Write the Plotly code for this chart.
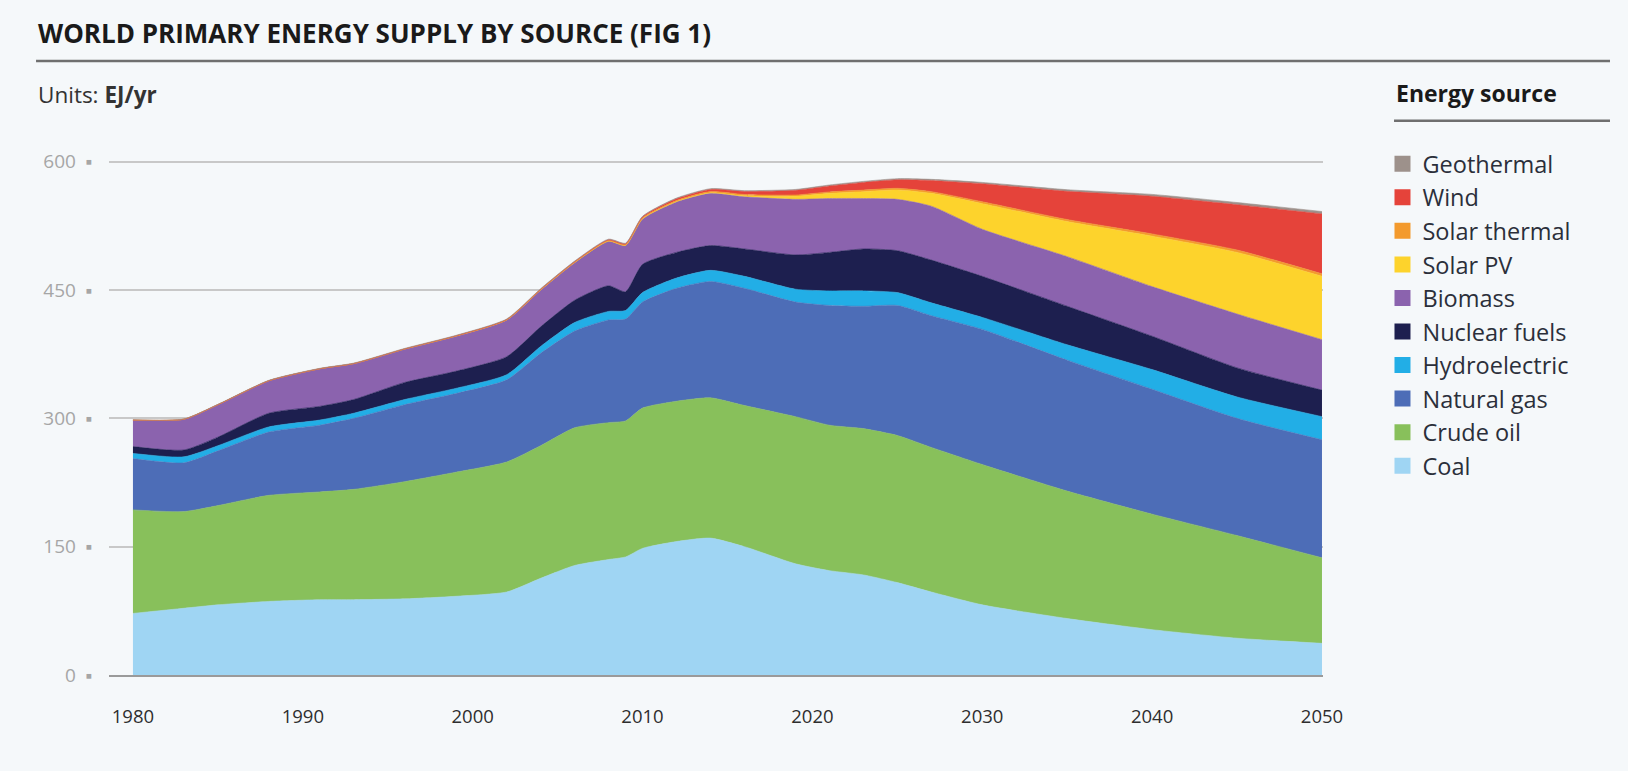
import plotly.graph_objects as go

# EJ/yr per source (stacked layer thickness)
years = [1980, 1983, 1985, 1988, 1991, 1993, 1996, 1999, 2002, 2004, 2006, 2008, 2009,
         2010, 2012, 2014, 2016, 2019, 2021, 2023, 2025, 2027, 2030, 2035, 2040, 2045, 2050]

coal = [72, 78, 82, 86, 88, 88, 89, 92, 97, 113, 128, 135, 138,
        148, 156, 160, 150, 130, 122, 117, 108, 97, 82, 66, 53, 43, 37]
crude_oil = [121, 113, 116, 124, 126, 129, 137, 145, 152, 155, 161, 160, 159,
             164, 164, 164, 165, 172, 170, 171, 172, 169, 164, 149, 135, 120, 100]
natural_gas = [60, 57, 64, 74, 78, 83, 90, 92, 96, 108, 113, 120, 119,
               124, 132, 136, 137, 134, 140, 143, 152, 154, 158, 153, 146, 137, 138]
hydroelectric = [6, 7, 6, 6, 6, 6, 6, 6, 6, 8, 10, 10, 10,
                 11, 12, 13, 14, 15, 17, 18, 15, 15, 14, 18, 23, 25, 27]
nuclear = [8, 8, 10, 16, 16, 16, 20, 20, 21, 23, 26, 30, 22,
           33, 30, 29, 32, 40, 45, 49, 49, 50, 48, 45, 39, 34, 31]
biomass = [31, 36, 38, 38, 44, 42, 39, 41, 43, 43, 44, 52, 54,
           53, 59, 61, 61, 65, 63, 59, 60, 63, 55, 58, 58, 63, 59]
solar_pv = [0, 0, 0, 0, 0, 0, 0, 0, 0, 0, 0, 0.1, 0.1,
            0.2, 0.4, 0.7, 1.2, 3.5, 6, 8, 11, 15, 30, 41, 59, 72, 74]
solar_thermal = [0, 0, 0, 0, 0, 0.1, 0.2, 0.3, 0.4, 0.5, 0.6, 0.8, 0.9,
                 1.0, 1.2, 1.4, 1.5, 1.6, 1.7, 1.8, 1.9, 2.0, 2.2, 2.4, 2.6, 2.8, 3.0]
wind = [0, 0, 0, 0, 0, 0, 0, 0.05, 0.1, 0.3, 0.5, 0.8, 1,
        1.2, 2, 2.5, 3.5, 5.5, 7, 9, 10, 13, 21, 33, 44, 53, 70]
geothermal = [0.3, 0.3, 0.4, 0.5, 0.5, 0.5, 0.6, 0.6, 0.7, 0.7, 0.7, 0.8, 0.8,
              0.8, 0.9, 0.9, 1.0, 1.0, 1.1, 1.2, 1.3, 1.4, 1.6, 1.9, 2.2, 2.5, 2.8]

# bottom of the stack first
sources = [
    ("Coal", coal, "#9fd5f3"),
    ("Crude oil", crude_oil, "#88c05b"),
    ("Natural gas", natural_gas, "#4d6db7"),
    ("Hydroelectric", hydroelectric, "#22aee6"),
    ("Nuclear fuels", nuclear, "#1d1f4f"),
    ("Biomass", biomass, "#8b63ae"),
    ("Solar PV", solar_pv, "#fdd32c"),
    ("Solar thermal", solar_thermal, "#f39a2d"),
    ("Wind", wind, "#e5433a"),
    ("Geothermal", geothermal, "#9d918b"),
]

y_ticks = [0, 150, 300, 450, 600]
x_ticks = [1980, 1990, 2000, 2010, 2020, 2030, 2040, 2050]

FONT = "Open Sans"
BG = "#f5f8fa"

fig = go.Figure()

for name, values, color in sources:
    fig.add_trace(go.Scatter(
        x=years, y=values, name=name, stackgroup="energy",
        mode="lines", line=dict(color=color, width=0.6, shape="spline", smoothing=0.6),
        fillcolor=color, showlegend=False, hoverinfo="skip"))

# legend-only entries with square swatches, top of the stack listed first
for name, values, color in reversed(sources):
    fig.add_trace(go.Scatter(
        x=[None], y=[None], name=name, mode="markers", legendgroup=name,
        marker=dict(symbol="square", size=17, color=color)))

fig.update_layout(
    width=1628, height=771,
    margin=dict(l=109, r=305, t=160, b=96),
    paper_bgcolor=BG, plot_bgcolor=BG,
    font=dict(family=FONT, color="#333333"),
    legend=dict(
        x=1.049, y=1.035, xanchor="left", yanchor="top",
        traceorder="grouped", tracegroupgap=0,
        font=dict(size=23.5, color="#2b2f3a"), bgcolor="rgba(0,0,0,0)"),
    xaxis=dict(
        range=[1978.59, 2050.06], tickvals=x_ticks, showgrid=False, zeroline=False,
        showline=True, linecolor="#9a9a9a", linewidth=2,
        ticks="outside", ticklen=24, tickcolor="rgba(0,0,0,0)",
        tickfont=dict(size=18.5, color="#2e2e2e")),
    yaxis=dict(
        range=[0, 602], tickvals=y_ticks, ticktext=[f"{v}\u2002\u25aa" for v in y_ticks],
        showgrid=True, gridcolor="#c8c8c8", gridwidth=1.5, zeroline=False,
        ticks="outside", ticklen=12, tickcolor="rgba(0,0,0,0)",
        tickfont=dict(size=19, color="#a6a6a6")),
)

fig.add_annotation(
    text="<b>WORLD PRIMARY ENERGY SUPPLY BY SOURCE (FIG 1)</b>",
    xref="paper", yref="paper", x=-0.0601, y=1.247, xanchor="left", yanchor="middle",
    showarrow=False, font=dict(size=26, color="#1a1a1a"))
fig.add_annotation(
    text="Units: <b>EJ/yr</b>",
    xref="paper", yref="paper", x=-0.0601, y=1.128, xanchor="left", yanchor="middle",
    showarrow=False, font=dict(size=22.5, color="#333333"))
fig.add_annotation(
    text="<b>Energy source</b>",
    xref="paper", yref="paper", x=1.0585, y=1.13, xanchor="left", yanchor="middle",
    showarrow=False, font=dict(size=23, color="#1a1a1a"))

# rules under the title and the legend heading
fig.add_shape(type="line", xref="paper", yref="paper", x0=-0.0601, x1=1.2364, y0=1.192, y1=1.192,
              line=dict(color="#6f6f6f", width=2.5))
fig.add_shape(type="line", xref="paper", yref="paper", x0=1.0585, x1=1.2364, y0=1.076, y1=1.076,
              line=dict(color="#6f6f6f", width=2.5))

fig.write_html("out.html", config={"displayModeBar": False},
               post_script="document.body.style.margin='0';")
